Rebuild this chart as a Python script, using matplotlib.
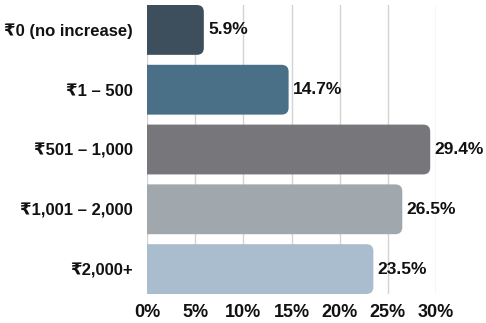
import matplotlib
matplotlib.use("Agg")
import matplotlib.pyplot as plt
from matplotlib.patches import FancyBboxPatch

categories = ["₹0 (no increase)", "₹1 – 500", "₹501 – 1,000", "₹1,001 – 2,000", "₹2,000+"]
values = [5.9, 14.7, 29.4, 26.5, 23.5]
colors = ["#3d4f5c", "#4a7088", "#77777b", "#a0a8ae", "#aabdcf"]
xticks = [0, 5, 10, 15, 20, 25, 30]
xtick_labels = ["0%", "5%", "10%", "15%", "20%", "25%", "30%"]

FAMILY = ["Liberation Sans", "DejaVu Sans"]
plt.rcParams["font.family"] = FAMILY

W, H, DPI = 486, 323, 100
fig = plt.figure(figsize=(W / DPI, H / DPI), dpi=DPI)
left, right, top, bottom = 147, 436, 5, 294
ax = fig.add_axes([left / W, 1 - bottom / H, (right - left) / W, (bottom - top) / H])

bar_h = 50 / 60
n = len(categories)
xmax = 30
ax.set_xlim(0, xmax)
ax.set_ylim(n - 0.5 - (1 - bar_h) / 2, -0.5 + (1 - bar_h) / 2)

# rounding radius in pixels, converted to data units on each axis
px_x = xmax / (right - left)
px_y = (n - (1 - bar_h)) / (bottom - top)
radius_px = 7
aspect = px_y / px_x

for i, (v, c) in enumerate(zip(values, colors)):
    x0 = -2.0  # starts left of the axis so the left corners are clipped square
    patch = FancyBboxPatch((x0, i - bar_h / 2), v - x0, bar_h,
                           boxstyle=f"round,pad=0,rounding_size={radius_px * px_x}",
                           mutation_aspect=aspect, facecolor=c, edgecolor="none",
                           zorder=3)
    ax.add_patch(patch)
    ax.text(v + 0.45, i, f"{v:.1f}%", va="center", ha="left",
            fontsize=12.5, fontweight="bold", color="#111111", zorder=4)

ax.set_yticks(range(n))
ax.set_yticklabels(categories, fontsize=12, fontweight="bold", color="#111111")
ax.set_xticks(xticks)
ax.set_xticklabels(xtick_labels, fontsize=13, fontweight="bold", color="#111111")
ax.tick_params(axis="both", length=0)
ax.tick_params(axis="y", pad=10)
ax.tick_params(axis="x", pad=7)
ax.grid(axis="x", color="#d3d3d3", linewidth=1, zorder=0)
ax.set_axisbelow(True)
for s in ax.spines.values():
    s.set_visible(False)

fig.savefig("out.png", dpi=DPI)
